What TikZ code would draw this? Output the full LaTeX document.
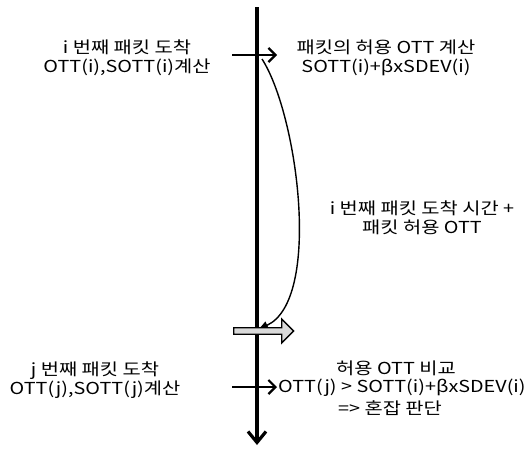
\documentclass[tikz,border=0pt]{standalone}
\usepackage{fontspec}
\setmainfont[FakeStretch=1.2]{Noto Sans CJK KR}
\usetikzlibrary{arrows.meta,shapes.arrows}
\tikzset{
	lbl/.style={align=center,font=\fontsize{16.5}{19}\selectfont,inner sep=0pt},
	tick/.style={line width=2.2pt,-{Straight Barb[length=7pt,width=14pt,line width=2.2pt]}},
}
\begin{document}
\begin{tikzpicture}[x=1pt,y=-1pt]
\useasboundingbox (0,0) rectangle (528,450);

% time axis
\coordinate (top) at (257,7);
\coordinate (bot) at (257,445);
\draw[line width=3.8pt,-{Straight Barb[length=11pt,width=18pt,line width=3.2pt]}] (top) -- (bot);

% arrival of i-th packet
\coordinate (ai) at (232,55);
\coordinate (bi) at (277,55);
\draw[tick] (ai) -- (bi);
\node[lbl] (li) at (127,58) {i 번째 패킷 도착\\OTT(i),SOTT(i)계산};
\node[lbl] (ri) at (386,58) {패킷의 허용 OTT 계산\\SOTT(i)+βxSDEV(i)};

% allowed time span
\coordinate (c1) at (262,59);
\coordinate (c2) at (259,329);
\draw[line width=1.4pt,-{Triangle[length=9pt,width=8pt]}] (c1) .. controls (298,115) and (322,300) .. (c2);
\node[lbl] (mid) at (422,218) {i 번째 패킷 도착 시간 +\\패킷 허용 OTT};

% deadline
\node[single arrow,draw,line width=1.3pt,fill=gray!30,minimum height=60pt,minimum width=24pt,
	single arrow head extend=7pt,single arrow head indent=0pt,single arrow tip angle=90,inner sep=2pt,anchor=west] (blk) at (233,331) {};

% arrival of j-th packet
\coordinate (aj) at (232,387);
\coordinate (bj) at (277,387);
\draw[tick] (aj) -- (bj);
\node[lbl] (lj) at (95,380) {j 번째 패킷 도착\\OTT(j),SOTT(j)계산};
\node[lbl,anchor=west] (rj) at (278,388) {OTT(j) > SOTT(i)+βxSDEV(i)};
\node[lbl] (rt) at (396,368) {허용 OTT 비교};
\node[lbl] (rb) at (390,408) {=> 혼잡 판단};
\end{tikzpicture}
\end{document}
